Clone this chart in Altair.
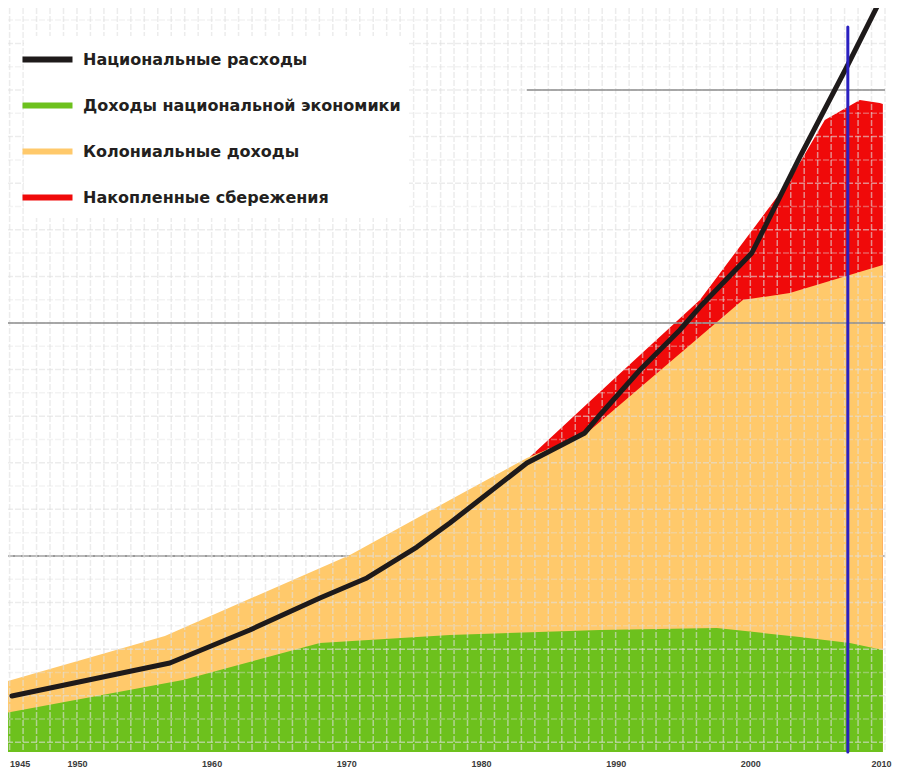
import altair as alt
import pandas as pd

# ---------------- data (y: 0 = plot bottom, 100 = plot top) ----------------
series_names = ["Национальные расходы", "Доходы национальной экономики",
                "Колониальные доходы", "Накопленные сбережения"]
series_colors = ["#1e1a1a", "#6dc11d", "#ffc96b", "#f00a0a"]

spend_years = [1945.17, 1956.90, 1962.84, 1968.04, 1971.53, 1975.24, 1977.69, 1983.41,
               1987.71, 1988.83, 1991.80, 1994.77, 1996.25, 2000.11, 2003.67, 2007.16, 2009.47]
spend_vals = [7.53, 11.96, 16.40, 20.70, 23.39, 27.55, 30.78, 38.84,
              42.88, 45.30, 51.34, 56.72, 59.81, 67.07, 79.97, 92.07, 100.40]

home_years = [1944.65, 1957.87, 1968.04, 1977.69, 1988.83, 1997.51, 2003.67, 2007.39, 2009.84]
home_vals = [5.24, 9.68, 14.65, 15.73, 16.40, 16.67, 15.46, 14.65, 13.71]

colonial_years = [1944.65, 1956.53, 1970.27, 1977.69, 1983.41, 1987.86, 1999.44, 2002.93, 2009.84]
colonial_vals = [9.41, 15.59, 26.48, 33.87, 39.52, 42.88, 60.75, 61.69, 65.46]

savings_years = [1983.63, 1989.79, 1996.25, 2002.93, 2005.53, 2008.13, 2009.61, 2009.84]
savings_vals = [39.65, 50.00, 60.75, 76.88, 84.95, 87.63, 87.23, 87.10]

marker_year = 2007.24
marker_top = 97.45

tick_years = [1945, 1950, 1960, 1970, 1980, 1990, 2000, 2010]

# major reference lines of the graph paper: level and the year where each starts
ref_levels = [88.98, 57.66]
ref_starts = [1983.4, 1944.88]

# ---------------- frames ----------------
spend_df = pd.DataFrame({"year": spend_years, "value": spend_vals, "series": series_names[0]})
home_df = pd.DataFrame({"year": home_years, "value": home_vals})
colonial_df = pd.DataFrame({"year": colonial_years, "value": colonial_vals})
savings_df = pd.DataFrame({"year": savings_years, "value": savings_vals})
marker_df = pd.DataFrame({"year": [marker_year], "top": [marker_top], "base": [0.0]})

X_MIN, X_MAX = 1944.88, 2010.0

# graph-paper grid (styling)
grid_year_df = pd.DataFrame({"year": list(range(1945, 2011))})
h_step = 3.1315
h_rows = []
for k in range(-3, 30):
    lv = 88.98 - h_step * k
    if 0.5 < lv < 100:
        h_rows.append({"level": lv, "op": 0.6 if k % 2 == 0 else 0.38})
h_grid_df = pd.DataFrame(h_rows)
dark_top_df = pd.DataFrame({"level": ref_levels, "x0": ref_starts, "x1": [X_MAX, X_MAX]})
dark_low_df = pd.DataFrame({"level": [26.35]})

W, H = 877, 744
x_scale = alt.Scale(domain=[X_MIN, X_MAX], nice=False, zero=False)
y_scale = alt.Scale(domain=[0, 100], nice=False, zero=False)

x_axis = alt.Axis(values=tick_years, format="d", title=None, grid=False, ticks=False,
                  tickSize=0, domain=False, labelFont="Liberation Sans",
                  labelFontWeight="bold", labelFontSize=9, labelColor="#3a3a3a",
                  labelPadding=7,
                  labelAlign={"expr": "datum.value <= 1945 ? 'left' : (datum.value >= 2010 ? 'right' : 'center')"},
                  labelOffset={"expr": "datum.value >= 2010 ? 6 : 0"})


def xenc(field="year"):
    return alt.X(f"{field}:Q", scale=x_scale, axis=x_axis)


def yenc(field="value"):
    return alt.Y(f"{field}:Q", scale=y_scale, axis=None)


legend = alt.Legend(title=None, orient="none", legendX=16, legendY=28,
                    symbolType="M-2,0H2", symbolSize=625, symbolStrokeWidth=6,
                    labelFont="DejaVu Sans", labelFontWeight="bold", labelFontSize=16,
                    labelColor="#231f20", labelLimit=800, labelOffset=20,
                    rowPadding=18, padding=8, fillColor="white")

dark_low = alt.Chart(dark_low_df).mark_rule(color="#9a9a9a", strokeWidth=2).encode(y=yenc("level"))
red_area = alt.Chart(savings_df).mark_area(color=series_colors[3], clip=True).encode(x=xenc(), y=yenc())
orange_area = alt.Chart(colonial_df).mark_area(color=series_colors[2], clip=True).encode(x=xenc(), y=yenc())
green_area = alt.Chart(home_df).mark_area(color=series_colors[1], clip=True).encode(x=xenc(), y=yenc())

v_grid = alt.Chart(grid_year_df).mark_rule(color="#e0e0e0", opacity=0.6, strokeWidth=1.5,
                                           strokeDash=[6, 2]).encode(x=xenc())
h_grid = alt.Chart(h_grid_df).mark_rule(color="#e0e0e0", strokeWidth=1.5, strokeDash=[6, 2]).encode(
    y=yenc("level"), opacity=alt.Opacity("op:Q", scale=None, legend=None))
dark_top = alt.Chart(dark_top_df).mark_rule(color="#8c8c8c", opacity=0.75, strokeWidth=2, clip=True).encode(
    y=yenc("level"), x=xenc("x0"), x2=alt.X2("x1:Q"))

line = alt.Chart(spend_df).mark_line(strokeWidth=5, strokeCap="round", strokeJoin="round").encode(
    x=xenc(), y=yenc(),
    color=alt.Color("series:N", scale=alt.Scale(domain=series_names, range=series_colors), legend=legend))

marker = alt.Chart(marker_df).mark_rule(color="#2a20c0", strokeWidth=3, strokeCap="round").encode(
    x=xenc(), y=yenc("top"), y2=alt.Y2("base:Q"))

chart = alt.layer(dark_low, red_area, orange_area, green_area, v_grid, h_grid, dark_top, line, marker).properties(
    width=W, height=H,
    autosize=alt.AutoSizeParams(type="none"),
    padding={"left": 0, "top": 0, "right": 7, "bottom": 16},
).configure_view(strokeWidth=0)

chart.save("out.html", embed_options={"renderer": "svg", "actions": False})
